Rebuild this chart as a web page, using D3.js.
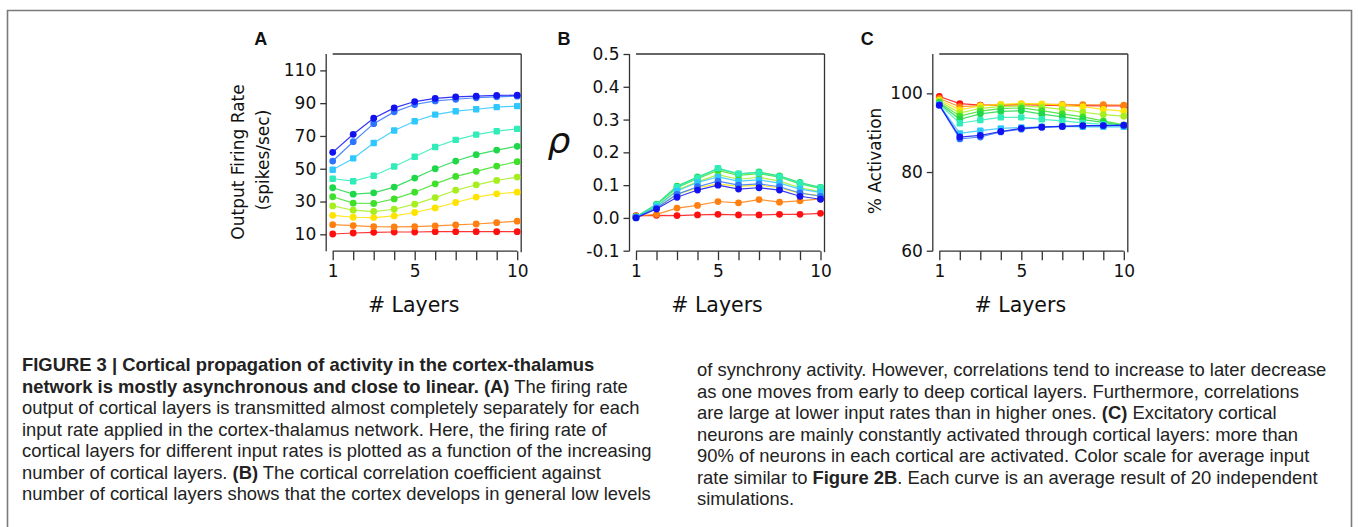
<!DOCTYPE html>
<html>
<head>
<meta charset="utf-8">
<script src="https://cdn.jsdelivr.net/npm/d3@7"></script>
<style>
  html, body { margin: 0; padding: 0; background: #fff; }
  svg { display: block; }
  .tick-label { font-family: "DejaVu Sans", sans-serif; font-size: 17px; fill: #111; }
  .axis-title { font-family: "DejaVu Sans", sans-serif; fill: #111; }
  .panel-label { font-family: "Liberation Sans", Arial, sans-serif; font-weight: bold; font-size: 18px; fill: #111; }
  .caption { font-family: "Liberation Sans Narrow", "Liberation Sans", sans-serif; font-size: 18.4px; fill: #222; }
</style>
</head>
<body>
<svg id="fig" width="1358" height="527"></svg>
<script>
// Number of cortical layers (x axis of every panel)
const layers = [1, 2, 3, 4, 5, 6, 7, 8, 9, 10];
const xTickLabels = [1, 5, 10];

// Input-rate colour scale, lowest to highest rate
const seriesColors = ["#ff1010", "#ff8010", "#ffe400", "#a6ee1e", "#3fe02a",
                      "#1fd84a", "#30ecb8", "#2ec8ff", "#2f74ff", "#1212f0"];
// Marker shape per series
const seriesShapes = ["circle", "circle", "circle", "circle", "circle",
                      "circle", "square", "square", "circle", "circle"];

// A: output firing rate (spikes/sec)
const rateRed      = [10.2, 10.8, 11.2, 11.4, 11.4, 11.6, 11.6, 11.6, 11.6, 11.6];
const rateOrange   = [15.9, 15.3, 14.7, 14.5, 14.7, 15.1, 15.7, 16.3, 17.1, 18.0];
const rateYellow   = [21.6, 20.4, 20.2, 21.2, 23.3, 26.1, 29.4, 32.7, 34.7, 35.7];
const rateYGreen   = [27.3, 24.7, 23.9, 25.3, 28.4, 32.4, 36.9, 40.2, 42.9, 44.9];
const rateGreen    = [32.9, 29.0, 28.8, 31.6, 35.7, 40.8, 45.3, 48.4, 51.6, 54.3];
const rateGreen2   = [38.4, 34.5, 35.3, 38.8, 44.3, 50.0, 54.7, 58.6, 61.4, 63.7];
const rateAqua     = [43.9, 42.4, 45.7, 51.4, 57.3, 63.3, 67.6, 70.8, 72.9, 74.3];
const rateSky      = [49.4, 56.3, 65.7, 73.3, 79.0, 83.0, 85.1, 86.3, 87.6, 88.2];
const rateBlue     = [54.7, 66.5, 77.5, 84.7, 89.2, 91.4, 92.4, 93.3, 93.9, 94.3];
const rateNavy     = [60.0, 71.0, 80.8, 87.1, 91.0, 92.9, 93.9, 94.3, 94.7, 94.9];

// B: cortical correlation coefficient rho
const rhoRed       = [0.007, 0.008, 0.007, 0.009, 0.011, 0.009, 0.009, 0.011, 0.011, 0.014];
const rhoOrange    = [0.005, 0.011, 0.030, 0.038, 0.050, 0.046, 0.056, 0.048, 0.052, 0.058];
const rhoYellow    = [0.002, 0.030, 0.072, 0.092, 0.104, 0.096, 0.100, 0.092, 0.075, 0.068];
const rhoYGreen    = [0.002, 0.035, 0.085, 0.110, 0.132, 0.118, 0.124, 0.112, 0.092, 0.080];
const rhoGreen     = [0.003, 0.040, 0.092, 0.120, 0.145, 0.130, 0.135, 0.124, 0.104, 0.090];
const rhoGreen2    = [0.003, 0.042, 0.097, 0.125, 0.150, 0.134, 0.140, 0.128, 0.108, 0.093];
const rhoAqua      = [0.003, 0.040, 0.094, 0.122, 0.152, 0.135, 0.138, 0.126, 0.106, 0.092];
const rhoSky       = [0.002, 0.034, 0.082, 0.108, 0.125, 0.112, 0.116, 0.106, 0.088, 0.078];
const rhoBlue      = [0.001, 0.030, 0.072, 0.095, 0.112, 0.100, 0.104, 0.095, 0.076, 0.066];
const rhoNavy      = [0.000, 0.027, 0.063, 0.085, 0.100, 0.088, 0.092, 0.085, 0.066, 0.057];

// C: % of excitatory neurons activated
const actRed       = [99.2, 97.4, 97.0, 97.0, 97.1, 97.0, 96.9, 96.9, 96.8, 96.8];
const actOrange    = [98.7, 96.6, 96.9, 97.1, 97.3, 97.2, 97.2, 97.1, 97.1, 97.0];
const actYellow    = [98.3, 95.8, 96.8, 97.2, 97.4, 97.3, 97.0, 96.6, 95.9, 95.5];
const actYGreen    = [98.0, 95.0, 96.2, 96.6, 96.8, 96.5, 95.9, 95.2, 94.6, 94.2];
const actGreen     = [97.7, 94.2, 95.5, 96.1, 96.3, 95.6, 94.8, 94.0, 93.0, 92.0];
const actGreen2    = [97.4, 93.4, 94.8, 95.4, 95.6, 94.7, 94.0, 93.3, 92.6, 91.8];
const actAqua      = [97.2, 92.4, 93.2, 93.9, 93.9, 93.4, 93.0, 92.5, 92.1, 91.8];
const actSky       = [97.1, 89.8, 90.5, 91.1, 91.3, 91.5, 91.6, 91.5, 91.5, 91.5];
const actBlue      = [97.0, 88.4, 88.9, 90.2, 90.9, 91.4, 91.6, 91.7, 91.8, 91.8];
const actNavy      = [97.0, 88.9, 89.3, 90.3, 91.1, 91.4, 91.6, 91.8, 91.8, 91.9];

const yTicksA = [10, 30, 50, 70, 90, 110];
const yTicksB = [-0.1, 0.0, 0.1, 0.2, 0.3, 0.4, 0.5];
const yTicksC = [60, 80, 100];

const panels = [
  { label: "A", domain: [0, 120], ticks: yTicksA, fmt: d => String(d),
    series: [rateRed, rateOrange, rateYellow, rateYGreen, rateGreen, rateGreen2, rateAqua, rateSky, rateBlue, rateNavy] },
  { label: "B", domain: [-0.1, 0.5], ticks: yTicksB, fmt: d => d.toFixed(1),
    series: [rhoRed, rhoOrange, rhoYellow, rhoYGreen, rhoGreen, rhoGreen2, rhoAqua, rhoSky, rhoBlue, rhoNavy] },
  { label: "C", domain: [60, 110], ticks: yTicksC, fmt: d => String(d),
    series: [actRed, actOrange, actYellow, actYGreen, actGreen, actGreen2, actAqua, actSky, actBlue, actNavy] }
];

const svg = d3.select("#fig");

// Figure frame
svg.append("path")
  .attr("d", "M7.5,540 V10.5 H1351.5 V540")
  .attr("fill", "none").attr("stroke", "#7a7a7a").attr("stroke-width", 1.6);

const plotTop = 54, plotBottom = 250.7, plotW = 184.5;
const axisColor = "#333";

panels.forEach((p, i) => {
  const x0 = 332.7 + i * 303.3;
  const x = d3.scaleLinear().domain([1, 10]).range([x0, x0 + plotW]);
  const y = d3.scaleLinear().domain(p.domain).range([plotBottom, plotTop]);
  const g = svg.append("g");
  const axisX = x0 - 6.5;
  const rightX = x(10) + 4;

  // Frame: top and right lines
  g.append("line").attr("x1", x(1)).attr("x2", rightX).attr("y1", plotTop).attr("y2", plotTop)
    .attr("stroke", axisColor).attr("stroke-width", 1.3);
  g.append("line").attr("x1", rightX).attr("x2", rightX).attr("y1", plotTop).attr("y2", plotBottom + 1.5)
    .attr("stroke", axisColor).attr("stroke-width", 1.3);

  // Left axis
  const yAxis = d3.axisLeft(y).tickValues(p.ticks).tickFormat(p.fmt).tickSize(6).tickPadding(4);
  const ya = g.append("g").attr("transform", `translate(${axisX},0)`).call(yAxis);
  ya.select(".domain").attr("d", `M0,${plotTop}V${plotBottom + 0.5}`).attr("stroke", axisColor).attr("stroke-width", 1.3);
  ya.selectAll(".tick line").attr("stroke", axisColor).attr("stroke-width", 1.3);
  ya.selectAll(".tick text").attr("class", "tick-label").attr("fill", "#111");

  // Bottom axis: a tick at every layer, labels at 1, 5 and 10
  const xAxis = d3.axisBottom(x).tickValues(layers)
    .tickFormat(d => xTickLabels.includes(d) ? d : "").tickSize(9).tickPadding(5);
  const xa = g.append("g").attr("transform", `translate(0,${plotBottom + 0.5})`).call(xAxis);
  xa.select(".domain").attr("d", `M${x(1)},0H${x(10)}`).attr("stroke", axisColor).attr("stroke-width", 1.3);
  xa.selectAll(".tick line").attr("stroke", axisColor).attr("stroke-width", 1.3);
  xa.selectAll(".tick text").attr("class", "tick-label").attr("fill", "#111");

  // Axis title
  g.append("text").attr("class", "axis-title")
    .attr("x", x0 + 81).attr("y", 312)
    .attr("text-anchor", "middle").attr("font-size", 20.5)
    .text("# Layers");

  // Panel letter
  g.append("text").attr("class", "panel-label")
    .attr("x", x0 - 72).attr("y", 45).attr("text-anchor", "middle").text(p.label);

  // Curves
  const line = d3.line().x((d, k) => x(layers[k])).y(d => y(d));
  p.series.forEach((vals, s) => {
    const col = seriesColors[s];
    g.append("path").datum(vals).attr("d", line)
      .attr("fill", "none").attr("stroke", col).attr("stroke-width", 1.2).attr("stroke-opacity", 0.85);
    const pts = g.append("g");
    vals.forEach((v, k) => {
      if (seriesShapes[s] === "square") {
        pts.append("rect").attr("x", x(layers[k]) - 3.2).attr("y", y(v) - 3.2)
          .attr("width", 6.4).attr("height", 6.4).attr("rx", 1).attr("fill", col);
      } else {
        pts.append("circle").attr("cx", x(layers[k])).attr("cy", y(v)).attr("r", 3.4).attr("fill", col);
      }
    });
  });
});

// Y axis titles
svg.append("text").attr("class", "axis-title").attr("font-size", 17)
  .attr("transform", "translate(244,162) rotate(-90)").attr("text-anchor", "middle")
  .text("Output Firing Rate");
svg.append("text").attr("class", "axis-title").attr("font-size", 17)
  .attr("transform", "translate(269,160) rotate(-90)").attr("text-anchor", "middle")
  .text("(spikes/sec)");
svg.append("text").attr("class", "axis-title").attr("font-size", 36).attr("font-style", "italic")
  .attr("x", 559).attr("y", 153).attr("text-anchor", "middle")
  .text("ρ");
svg.append("text").attr("class", "axis-title").attr("font-size", 17)
  .attr("transform", "translate(881,161) rotate(-90)").attr("text-anchor", "middle")
  .text("% Activation");

// Caption, two columns; each line is a list of [text, bold] runs
const captionLeft = [
  [["FIGURE 3 | Cortical propagation of activity in the cortex-thalamus", true]],
  [["network is mostly asynchronous and close to linear. ", true], ["(A)", true], [" The firing rate", false]],
  [["output of cortical layers is transmitted almost completely separately for each", false]],
  [["input rate applied in the cortex-thalamus network. Here, the firing rate of", false]],
  [["cortical layers for different input rates is plotted as a function of the increasing", false]],
  [["number of cortical layers. ", false], ["(B)", true], [" The cortical correlation coefficient against", false]],
  [["number of cortical layers shows that the cortex develops in general low levels", false]]
];
const captionRight = [
  [["of synchrony activity. However, correlations tend to increase to later decrease", false]],
  [["as one moves from early to deep cortical layers. Furthermore, correlations", false]],
  [["are large at lower input rates than in higher ones. ", false], ["(C)", true], [" Excitatory cortical", false]],
  [["neurons are mainly constantly activated through cortical layers: more than", false]],
  [["90% of neurons in each cortical are activated. Color scale for average input", false]],
  [["rate similar to ", false], ["Figure 2B", true], [". Each curve is an average result of 20 independent", false]],
  [["simulations.", false]]
];

function drawCaption(lines, x, y0, dy) {
  lines.forEach((runs, i) => {
    const t = svg.append("text").attr("class", "caption").attr("x", x).attr("y", y0 + i * dy);
    runs.forEach(([str, bold]) => {
      t.append("tspan").attr("font-weight", bold ? "bold" : "normal").text(str);
    });
  });
}
drawCaption(captionLeft, 22, 371, 21.5);
drawCaption(captionRight, 697, 376, 21.5);
</script>
</body>
</html>
